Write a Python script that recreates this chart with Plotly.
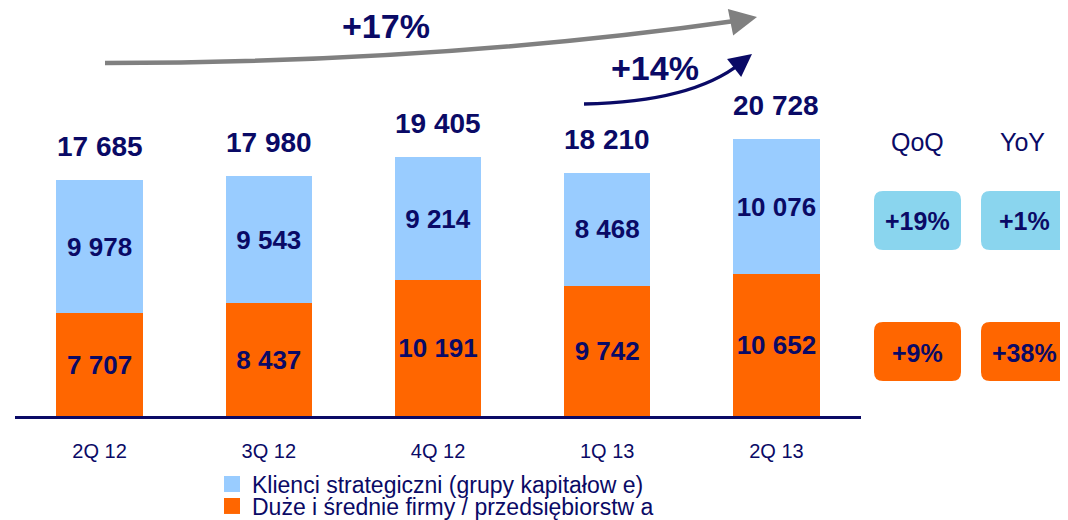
import plotly.graph_objects as go

quarters = ["2Q 12", "3Q 12", "4Q 12", "1Q 13", "2Q 13"]
duze = [7707, 8437, 10191, 9742, 10652]
klienci = [9978, 9543, 9214, 8468, 10076]
totals = [17685, 17980, 19405, 18210, 20728]

name_klienci = "Klienci strategiczni (grupy kapitałow e)"
name_duze = "Duże i średnie firmy / przedsiębiorstw a"

qoq = ["+19%", "+9%"]
yoy = ["+1%", "+38%"]
growth_17 = "+17%"
growth_14 = "+14%"

NAVY = "#0a0a66"
ORANGE = "#ff6600"
LIGHT = "#99ccff"
BOX_BLUE = "#8ad5ee"
FONT = "Liberation Sans"

# the page adds an 8px body margin, so the figure is 8px smaller
PAGE = 8
W, H = 1068 - PAGE, 520 - PAGE
L, R, T, B = 7, 207, 0, 104
PW, PH = W - L - R, H - T - B


def fmt(v):
    return f"{v:,}".replace(",", " ")


# screen pixel -> paper coordinates
def px(x):
    return (x - PAGE - L) / PW


def py(y):
    return (H - B - (y - PAGE)) / PH


def rrect(x0, y0, x1, y1, r=9):
    pts = [
        f"M {px(x0 + r)},{py(y0)}",
        f"L {px(x1 - r)},{py(y0)}",
        f"Q {px(x1)},{py(y0)} {px(x1)},{py(y0 + r)}",
        f"L {px(x1)},{py(y1 - r)}",
        f"Q {px(x1)},{py(y1)} {px(x1 - r)},{py(y1)}",
        f"L {px(x0 + r)},{py(y1)}",
        f"Q {px(x0)},{py(y1)} {px(x0)},{py(y1 - r)}",
        f"L {px(x0)},{py(y0 + r)}",
        f"Q {px(x0)},{py(y0)} {px(x0 + r)},{py(y0)}",
        "Z",
    ]
    return " ".join(pts)


def note(x, y, text, size, bold=True):
    fig.add_annotation(
        xref="paper", yref="paper", x=px(x), y=py(y),
        xanchor="center", yanchor="middle",
        text=f"<b>{text}</b>" if bold else text, showarrow=False,
        font=dict(family=FONT, size=size, color=NAVY),
    )


xs = list(range(len(quarters)))

fig = go.Figure()

for vals, color in [(duze, ORANGE), (klienci, LIGHT)]:
    fig.add_trace(
        go.Bar(
            x=xs,
            y=vals,
            showlegend=False,
            marker=dict(color=color, line=dict(width=0)),
            width=0.51,
            text=[fmt(v) for v in vals],
            textposition="inside",
            insidetextanchor="middle",
            textangle=0,
            textfont=dict(family=FONT, size=26, color=NAVY, weight="bold"),
        )
    )

# legend entries (square swatches)
for name, color, leg in [(name_klienci, LIGHT, "legend"), (name_duze, ORANGE, "legend2")]:
    fig.add_trace(
        go.Scatter(
            x=[None], y=[None], mode="markers", name=name, legend=leg,
            marker=dict(symbol="square", size=16, color=color),
        )
    )

# totals above the stacks
for x, t in zip(xs, totals):
    fig.add_annotation(
        x=x, y=t, text=f"<b>{fmt(t)}</b>", showarrow=False,
        yanchor="bottom", yshift=16,
        font=dict(family=FONT, size=28, color=NAVY),
    )

# growth arrows
fig.add_shape(
    type="path", xref="paper", yref="paper",
    path=f"M {px(105)},{py(63)} Q {px(440)},{py(63)} {px(742)},{py(20)}",
    line=dict(color="#808080", width=4.5),
)
fig.add_annotation(
    xref="paper", yref="paper", x=px(757), y=py(17), ax=-20, ay=4,
    text="", showarrow=True, arrowhead=2, arrowsize=1.2, arrowwidth=4.5,
    arrowcolor="#808080",
)
fig.add_shape(
    type="path", xref="paper", yref="paper",
    path=f"M {px(584)},{py(104)} Q {px(692)},{py(102)} {px(741)},{py(63)}",
    line=dict(color=NAVY, width=3.5),
)
fig.add_annotation(
    xref="paper", yref="paper", x=px(752), y=py(54), ax=-14, ay=11,
    text="", showarrow=True, arrowhead=2, arrowsize=1.3, arrowwidth=3.5,
    arrowcolor=NAVY,
)
note(386, 26, growth_17, 34)
note(655, 68, growth_14, 34)

# QoQ / YoY boxes
note(917, 142, "QoQ", 25, bold=False)
note(1022, 142, "YoY", 25, bold=False)

box_rows = [(191, 250, BOX_BLUE), (322, 381, ORANGE)]
for col_vals, (x0, x1) in [(qoq, (874, 961)), (yoy, (981, 1068))]:
    for val, (y0, y1, color) in zip(col_vals, box_rows):
        fig.add_shape(
            type="path", xref="paper", yref="paper",
            path=rrect(x0, y0, x1, y1), fillcolor=color, line=dict(width=0),
            layer="below",
        )
        note((x0 + x1) / 2, (y0 + y1) / 2 + 1, val, 25)

legend_style = dict(
    xanchor="left", yanchor="middle",
    font=dict(family=FONT, size=23, color=NAVY),
    itemwidth=30, bgcolor="rgba(0,0,0,0)",
)

fig.update_layout(
    width=W,
    height=H,
    barmode="stack",
    plot_bgcolor="white",
    paper_bgcolor="white",
    margin=dict(l=L, r=R, t=T, b=B, autoexpand=False),
    font=dict(family=FONT, color=NAVY),
    uniformtext=dict(mode="show", minsize=10),
    legend=dict(x=px(212), y=py(484), **legend_style),
    legend2=dict(x=px(212), y=py(506), **legend_style),
)
fig.update_xaxes(
    range=[-0.5, 4.5],
    tickmode="array",
    tickvals=xs,
    ticktext=quarters,
    showline=True,
    linecolor=NAVY,
    linewidth=2.5,
    ticks="outside",
    ticklen=15,
    tickcolor="rgba(0,0,0,0)",
    tickfont=dict(family=FONT, size=20, color=NAVY),
    showgrid=False,
    zeroline=False,
    automargin=False,
)
fig.update_yaxes(range=[0, PH / 0.013345], visible=False, showgrid=False)

fig.write_html("out.html")
